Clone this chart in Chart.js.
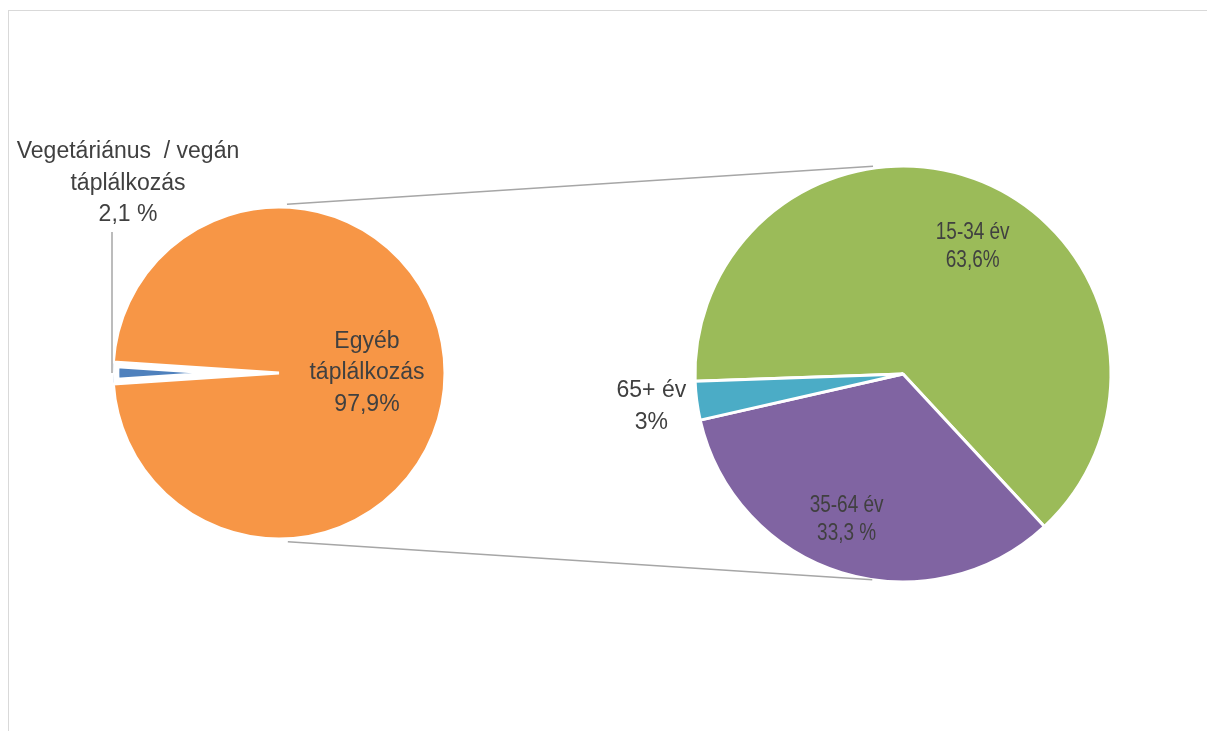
<!DOCTYPE html>
<html>
<head>
<meta charset="utf-8">
<script src="https://cdn.jsdelivr.net/npm/chart.js@4.4.1/dist/chart.umd.min.js"></script>
<style>
html,body{margin:0;padding:0;background:#fff;overflow:hidden}
#frame{position:absolute;left:8px;top:10px;width:1400px;height:900px;border:1px solid #d9d9d9;box-sizing:border-box}
canvas{position:absolute;left:0;top:0}
</style>
</head>
<body>
<div id="frame"></div>
<canvas id="mainPie" width="1207" height="731"></canvas>
<canvas id="agePie" width="1207" height="731"></canvas>
<script>
// ===== adatok =====
const mainLabels = ['Vegetáriánus / vegán táplálkozás', 'Egyéb táplálkozás'];
const mainValues = [2.1, 97.9];
const mainText = [['Vegetáriánus  / vegán', 'táplálkozás', '2,1 %'], ['Egyéb', 'táplálkozás', '97,9%']];
const mainColors = ['#4F81BD', '#F79646'];

const ageLabels = ['15-34 év', '35-64 év', '65+ év'];
const ageValues = [63.6, 33.3, 3];
const ageText = [['15-34 év', '63,6%'], ['35-64 év', '33,3 %'], ['65+ év', '3%']];
const ageColors = ['#9BBB59', '#8064A2', '#4BACC6'];

const TXT = '#404040';
const FONT = '"Liberation Sans", Arial, sans-serif';
const deg = d => d * Math.PI / 180;

// szeletfeliratok (a szelet közepétől számolva)
function sliceText(items) {
  return {
    id: 'sliceText',
    afterDatasetsDraw(chart) {
      const ctx = chart.ctx, arcs = chart.getDatasetMeta(0).data;
      const put = (t, x, y, sx) => { ctx.save(); ctx.translate(x, y); ctx.scale(sx, 1); ctx.fillText(t, 0, 0); ctx.restore(); };
      ctx.save(); ctx.fillStyle = TXT; ctx.textAlign = 'center'; ctx.textBaseline = 'middle';
      items.forEach((it, i) => {
        const a = arcs[i], r = a.outerRadius, n = it.lines.length, sx = it.sx || 1;
        const mid = (a.startAngle + a.endAngle) / 2 + deg(it.shift || 0);
        ctx.font = it.size + 'px ' + FONT;
        if (it.leader) {
          const px = a.x + Math.cos(mid) * r - 1, py = a.y + Math.sin(mid) * r;
          const top = py - it.leader.up * r;
          ctx.strokeStyle = '#a6a6a6'; ctx.lineWidth = 1.5;
          ctx.beginPath(); ctx.moveTo(px, py); ctx.lineTo(px, top); ctx.stroke();
          it.lines.forEach((t, k) => put(t, px + it.leader.dx, top - 17 - (n - 1 - k) * it.lh, sx));
          return;
        }
        const cx = a.x + Math.cos(mid) * r * it.dist, cy = a.y + Math.sin(mid) * r * it.dist;
        it.lines.forEach((t, k) => put(t, cx, cy + (k - (n - 1) / 2) * it.lh, sx));
      });
      ctx.restore();
    }
  };
}

// összekötő vonalak a két kör között
const connectors = {
  id: 'connectors',
  afterDraw(chart) {
    const L = window.mainChart.getDatasetMeta(0).data[0], R = chart.getDatasetMeta(0).data[0];
    const pt = (e, ang, extra) => [e.x + Math.cos(deg(ang)) * (e.outerRadius + extra), e.y + Math.sin(deg(ang)) * (e.outerRadius + extra)];
    const ctx = chart.ctx;
    ctx.save(); ctx.strokeStyle = '#a6a6a6'; ctx.lineWidth = 1.5;
    [[pt(L, -87.3, 3), pt(R, -98.2, 2)], [pt(L, 87, 3), pt(R, 98.5, 0)]].forEach(([p, q]) => {
      ctx.beginPath(); ctx.moveTo(p[0], p[1]); ctx.lineTo(q[0], q[1]); ctx.stroke();
    });
    ctx.restore();
  }
};

const base = {
  responsive: false, animation: false, events: [],
  plugins: { legend: { display: false }, tooltip: { enabled: false } }
};

window.mainChart = new Chart(document.getElementById('mainPie'), {
  type: 'pie',
  data: { labels: mainLabels, datasets: [{ data: mainValues, backgroundColor: mainColors, borderColor: '#fff',
    borderWidth: [6, 3], borderAlign: ['inner', 'center'], hoverOffset: 0 }] },
  options: { ...base, rotation: 270 - mainValues[0] * 1.8,
    layout: { padding: { left: 111.5, top: 205.5, right: 760.5, bottom: 190.5 } } },
  plugins: [sliceText([
    { lines: mainText[0], size: 23, lh: 31.5, leader: { up: 0.85, dx: 16 } },
    { lines: mainText[1], size: 23, lh: 31.5, dist: 0.53 }
  ])]
});

new Chart(document.getElementById('agePie'), {
  type: 'pie',
  data: { labels: ageLabels, datasets: [{ data: ageValues, backgroundColor: ageColors, borderColor: '#fff', borderWidth: 3, hoverOffset: 0 }] },
  options: { ...base, rotation: 268,
    layout: { padding: { left: 693.5, top: 164.5, right: 94.5, bottom: 147.5 } } },
  plugins: [sliceText([
    { lines: ageText[0], size: 24, sx: 0.79, lh: 28.5, dist: 0.7, shift: 6 },
    { lines: ageText[1], size: 24, sx: 0.79, lh: 28, dist: 0.75, shift: 4 },
    { lines: ageText[2], size: 23, lh: 32, dist: 1.22 }
  ]), connectors]
});
</script>
</body>
</html>
